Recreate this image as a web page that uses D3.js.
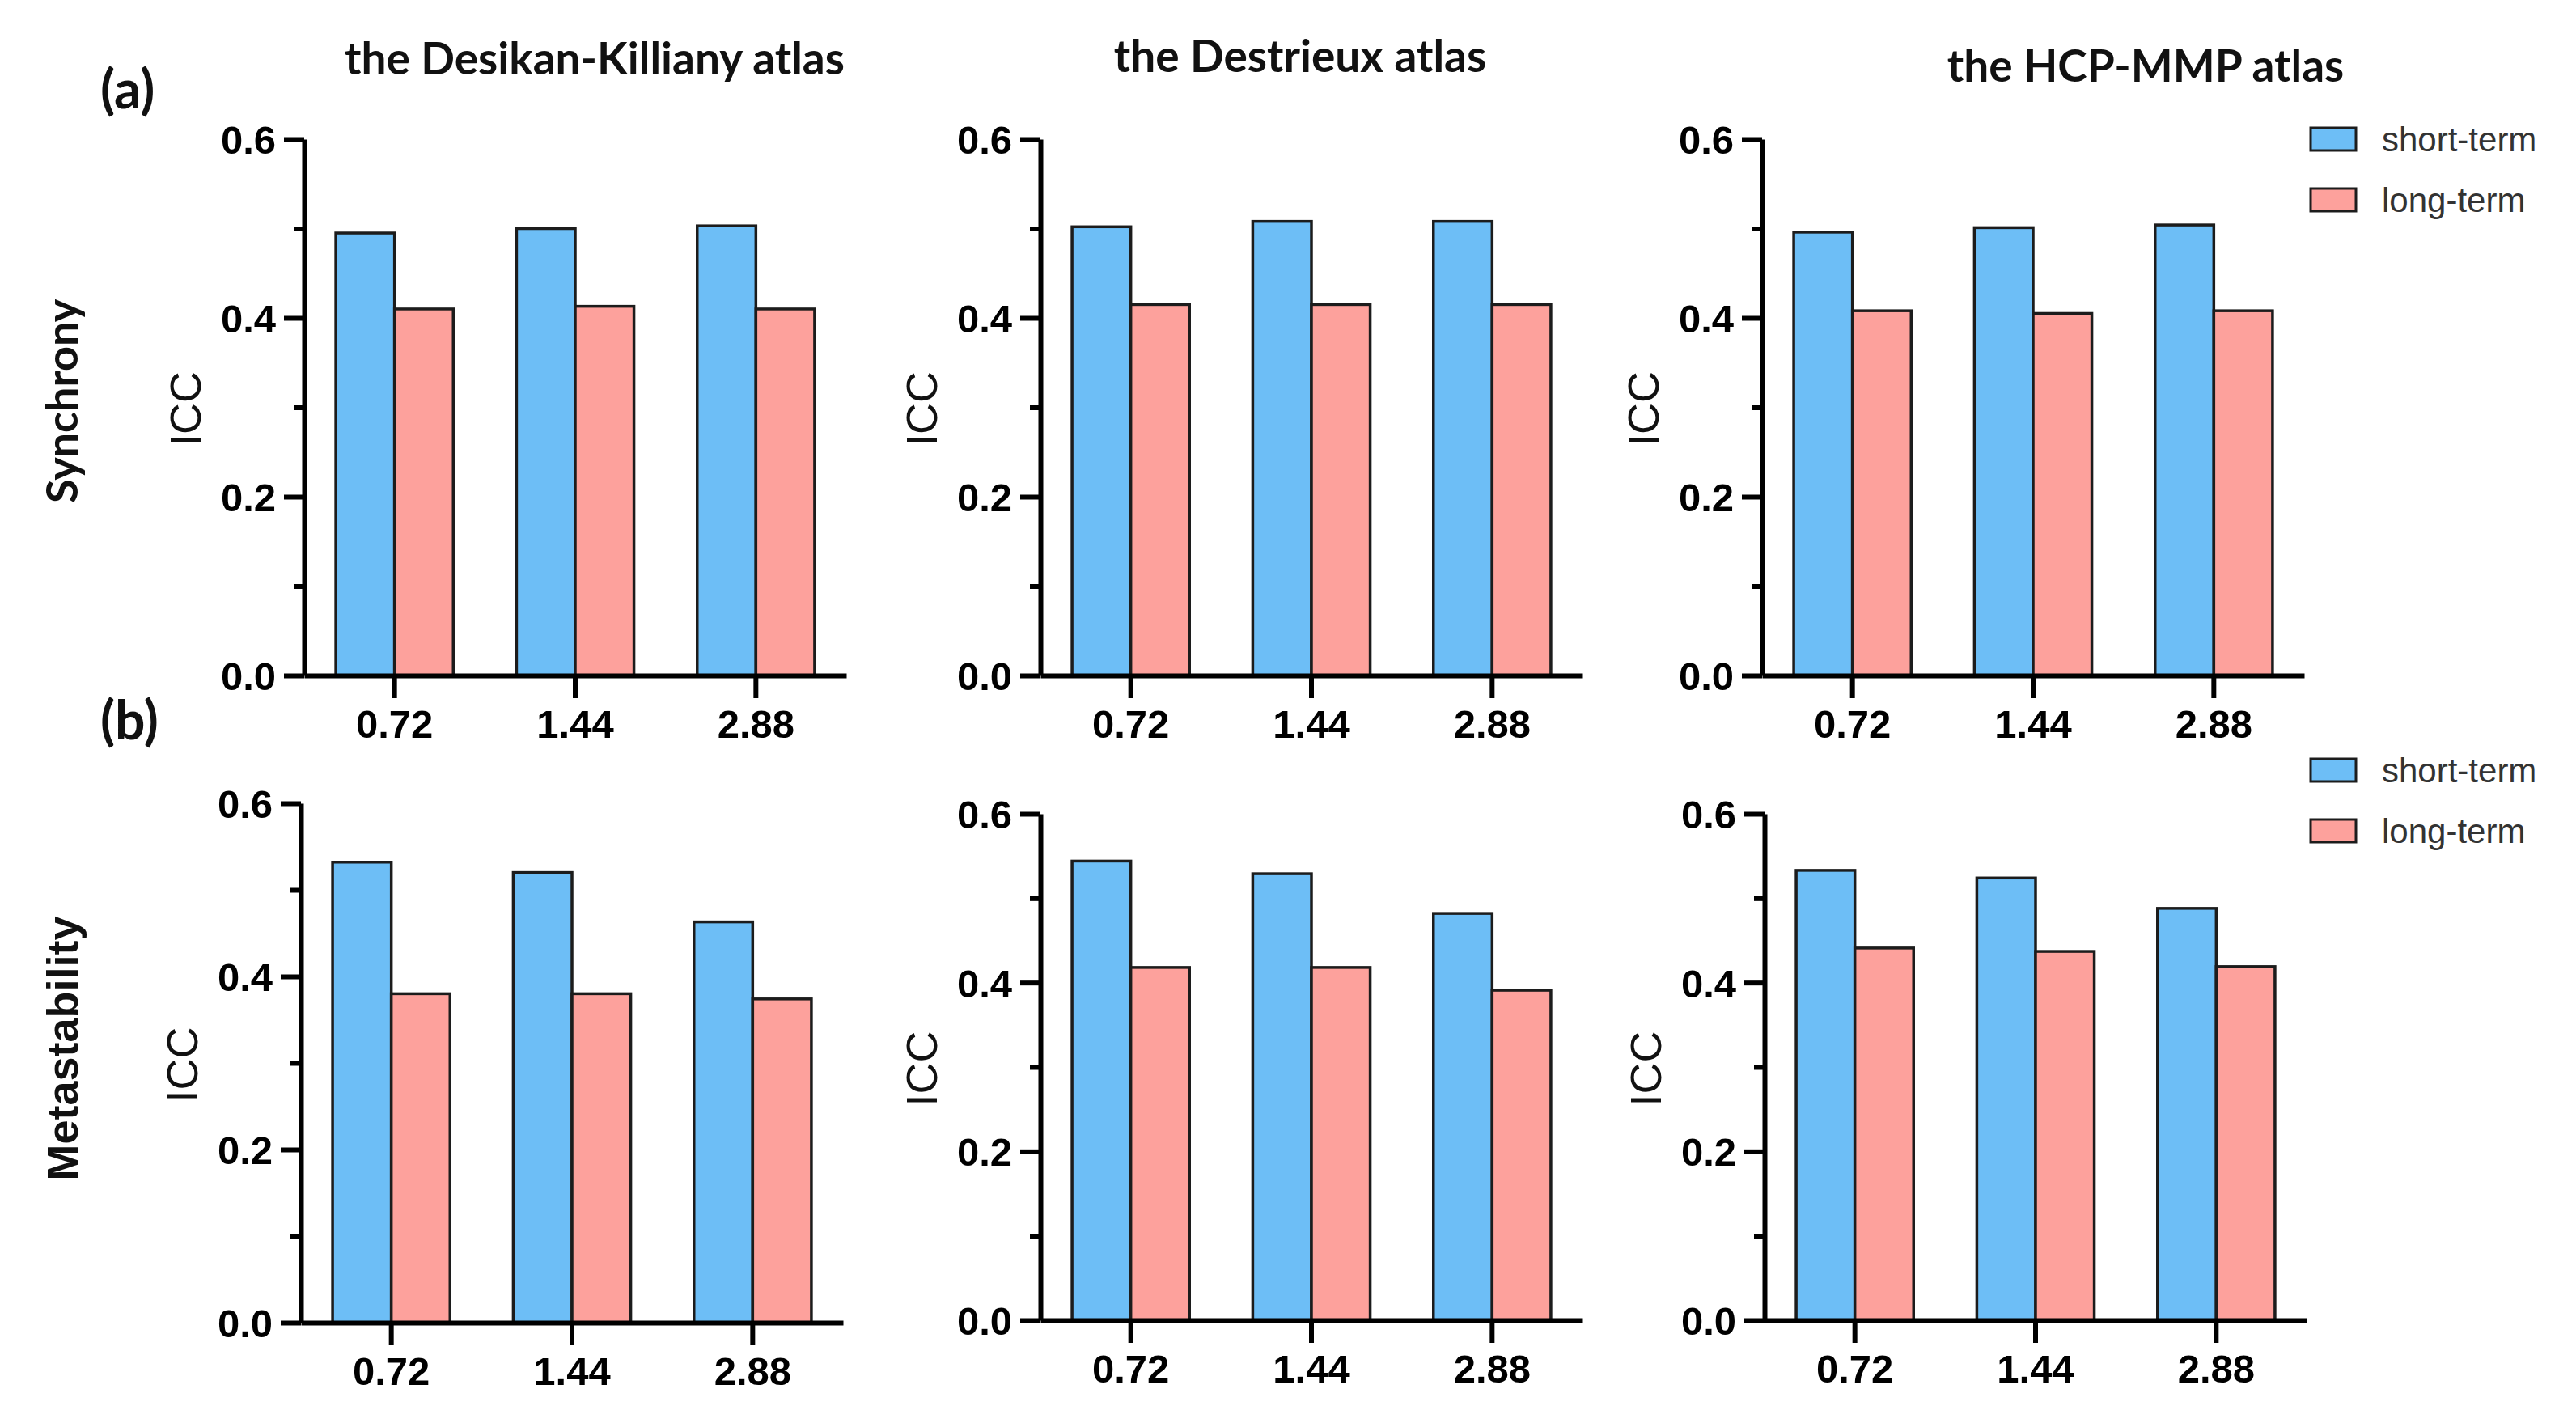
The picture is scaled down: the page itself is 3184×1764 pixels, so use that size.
<!DOCTYPE html>
<html>
<head>
<meta charset="utf-8">
<script src="https://cdn.jsdelivr.net/npm/d3@7"></script>
<style>
  body { margin: 0; background: #fff; }
  svg { display: block; }
</style>
</head>
<body>
<svg id="chart"></svg>
<script>
// data
const intervals = ['0.72', '1.44', '2.88'];
const series = ['short-term', 'long-term'];
const atlases = ['the Desikan-Killiany atlas', 'the Destrieux atlas', 'the HCP-MMP atlas'];
const measures = ['Synchrony', 'Metastability'];
const panelTags = ['(a)', '(b)'];
const yTicks = [0, 0.2, 0.4, 0.6];
const yMinorTicks = [0.1, 0.3, 0.5];

// one row per atlas, one value per interval
const synchronyShort = [[0.495, 0.500, 0.503], [0.502, 0.508, 0.508], [0.496, 0.501, 0.504]];
const synchronyLong = [[0.410, 0.413, 0.410], [0.415, 0.415, 0.415], [0.408, 0.405, 0.408]];
const metastabilityShort = [[0.532, 0.520, 0.463], [0.544, 0.529, 0.482], [0.533, 0.524, 0.488]];
const metastabilityLong = [[0.380, 0.380, 0.374], [0.418, 0.418, 0.391], [0.441, 0.437, 0.419]];

const colors = ['#6dbef6', '#fda19c'];

const W = 3184, H = 1764;
const svg = d3.select('#chart').attr('width', W).attr('height', H);

// layout
const axisX = [[376, 1286, 2178], [372, 1286, 2181]];
const plotW = 670;
const rowTop = [[172, 172, 172], [993, 1006, 1006]];
const rowBottom = [[835, 835, 835], [1635, 1632, 1632]];
const titleX = [735, 1607, 2652];
const titleY = [92, 89, 101];

const tickFont = '"Liberation Sans", Arial, sans-serif';
const calFont = 'Lato, "Open Sans", sans-serif';

const rows = [
  [synchronyShort, synchronyLong],
  [metastabilityShort, metastabilityLong]
];

rows.forEach((rowData, r) => {
  atlases.forEach((atlas, a) => {
    const x0 = axisX[r][a];
    const y = d3.scaleLinear().domain([0, 0.6]).range([rowBottom[r][a], rowTop[r][a]]);
    const xg = d3.scaleBand().domain(intervals)
      .range([x0, x0 + plotW]).paddingInner(0.35).paddingOuter(0.175);
    const xs = d3.scaleBand().domain(series).range([0, xg.bandwidth()]);

    const data = intervals.map((iv, i) => ({
      iv,
      vals: series.map((s, k) => ({ s, k, v: rowData[k][a][i] }))
    }));

    const g = svg.append('g');

    g.selectAll('g.grp')
      .data(data)
      .join('g')
        .attr('class', 'grp')
        .attr('transform', d => `translate(${xg(d.iv)},0)`)
      .selectAll('rect')
      .data(d => d.vals)
      .join('rect')
        .attr('x', d => xs(d.s))
        .attr('y', d => y(d.v))
        .attr('width', xs.bandwidth())
        .attr('height', d => y(0) - y(d.v))
        .attr('fill', d => colors[d.k])
        .attr('stroke', '#1c1c1c')
        .attr('stroke-width', 3.5);

    // minor y ticks
    g.append('g')
      .attr('transform', `translate(${x0},0)`)
      .call(d3.axisLeft(y).tickValues(yMinorTicks).tickSize(13).tickFormat(''))
      .call(s => s.select('.domain').remove())
      .call(s => s.selectAll('line').attr('stroke', '#000').attr('stroke-width', 6));

    // major y axis
    g.append('g')
      .attr('transform', `translate(${x0},0)`)
      .call(d3.axisLeft(y).tickValues(yTicks).tickSize(25).tickSizeOuter(0)
        .tickPadding(10).tickFormat(d3.format('.1f')))
      .call(s => s.select('.domain').attr('stroke', '#000').attr('stroke-width', 6))
      .call(s => s.selectAll('line').attr('stroke', '#000').attr('stroke-width', 6))
      .call(s => s.selectAll('text')
        .attr('font-family', tickFont).attr('font-weight', 'bold')
        .attr('font-size', 49).attr('fill', '#000').attr('dy', '0.36em'));

    // x axis
    g.append('g')
      .attr('transform', `translate(0,${y(0)})`)
      .call(d3.axisBottom(xg).tickSize(28).tickSizeOuter(0).tickPadding(14))
      .call(s => s.select('.domain').attr('stroke', '#000').attr('stroke-width', 6))
      .call(s => s.selectAll('line').attr('stroke', '#000').attr('stroke-width', 6))
      .call(s => s.selectAll('text')
        .attr('font-family', tickFont).attr('font-weight', 'bold')
        .attr('font-size', 49).attr('fill', '#000'));

    // ICC label
    const ym = (rowTop[r][a] + rowBottom[r][a]) / 2 + 2;
    g.append('text')
      .attr('transform', `translate(${x0 - 128},${ym}) rotate(-90)`)
      .attr('text-anchor', 'middle')
      .attr('font-family', tickFont)
      .attr('font-size', 54)
      .attr('fill', '#111')
      .text('ICC');

    if (r === 0) {
      svg.append('text')
        .attr('x', titleX[a]).attr('y', titleY[a])
        .attr('text-anchor', 'middle')
        .attr('font-family', calFont).attr('font-weight', 'bold')
        .attr('font-size', 55).attr('fill', '#111')
        .text(atlas);
    }
  });
});

// row labels and panel tags
const rowLabelY = [496, 1296];
const tagY = [134, 914];
measures.forEach((m, r) => {
  svg.append('text')
    .attr('transform', `translate(${96},${rowLabelY[r]}) rotate(-90)`)
    .attr('text-anchor', 'middle')
    .attr('font-family', r === 0 ? calFont : tickFont)
    .attr('font-weight', 'bold')
    .attr('font-size', 54)
    .attr('fill', '#111')
    .text(m);
  svg.append('text')
    .attr('x', 124).attr('y', tagY[r])
    .attr('font-family', calFont).attr('font-weight', 'bold')
    .attr('font-size', 66).attr('fill', '#111')
    .text(panelTags[r]);
});

// legends
const legendTop = [158, 938];
legendTop.forEach(top => {
  const lg = svg.append('g').attr('transform', `translate(2856,${top})`);
  lg.selectAll('g')
    .data(series)
    .join('g')
      .attr('transform', (d, i) => `translate(0,${i * 75})`)
      .call(s => s.append('rect')
        .attr('width', 56).attr('height', 28)
        .attr('fill', (d, i) => colors[i])
        .attr('stroke', '#1c1c1c').attr('stroke-width', 3))
      .call(s => s.append('text')
        .attr('x', 88).attr('y', 29)
        .attr('font-family', tickFont)
        .attr('font-size', 42)
        .attr('fill', '#333')
        .text(d => d));
});
</script>
</body>
</html>
